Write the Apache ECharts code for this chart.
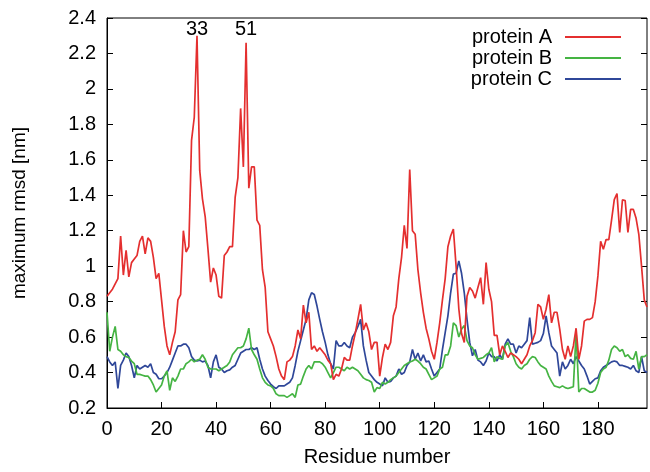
<!DOCTYPE html>
<html><head><meta charset="utf-8">
<script src="https://cdn.jsdelivr.net/npm/echarts@6/dist/echarts.min.js"></script>
<style>html,body{margin:0;padding:0;background:#fff}#c{width:650px;height:472px}</style>
</head><body><div id="c"></div>
<script>
var seriesNames = ['protein A', 'protein B', 'protein C'];
var proteinA = [
0.83,0.85,0.87,0.90,0.93,1.17,0.95,1.09,0.94,1.02,
1.04,1.06,1.14,1.17,1.07,1.16,1.14,1.05,0.93,0.96,
0.81,0.66,0.55,0.50,0.57,0.63,0.81,0.84,1.20,1.08,
1.11,1.71,1.84,2.30,1.54,1.38,1.28,1.10,0.91,0.99,
0.95,0.83,0.82,1.06,1.08,1.11,1.11,1.39,1.50,1.89,
1.56,2.26,1.44,1.56,1.56,1.26,1.23,0.98,0.88,0.63,
0.59,0.55,0.49,0.42,0.38,0.36,0.46,0.47,0.49,0.55,
0.64,0.59,0.78,0.68,0.74,0.53,0.55,0.52,0.54,0.52,
0.50,0.47,0.45,0.36,0.39,0.38,0.42,0.485,0.47,0.47,
0.55,0.62,0.70,0.785,0.64,0.68,0.63,0.53,0.57,0.57,
0.38,0.485,0.56,0.53,0.57,0.72,0.77,0.93,1.05,1.23,
1.10,1.545,1.20,1.18,0.98,0.85,0.74,0.65,0.59,0.52,
0.475,0.57,0.68,0.81,0.93,1.11,1.17,1.21,1.00,0.76,
0.62,0.57,0.83,0.88,0.86,0.82,0.88,0.935,0.785,1.02,
0.87,0.80,0.61,0.61,0.50,0.55,0.52,0.485,0.51,0.50,
0.49,0.475,0.45,0.475,0.50,0.55,0.58,0.625,0.785,0.77,
0.70,0.757,0.84,0.68,0.74,0.74,0.645,0.53,0.475,0.55,
0.49,0.55,0.65,0.475,0.55,0.69,0.70,0.70,0.71,0.80,
0.945,1.14,1.095,1.15,1.15,1.26,1.375,1.41,1.19,1.375,
1.37,1.19,1.32,1.32,1.27,1.18,1.00,0.81,0.77];
var proteinB = [
0.74,0.52,0.60,0.66,0.53,0.52,0.50,0.49,0.485,0.465,
0.45,0.39,0.39,0.385,0.38,0.38,0.36,0.33,0.29,0.31,
0.33,0.38,0.41,0.30,0.37,0.35,0.38,0.42,0.42,0.45,
0.46,0.475,0.46,0.47,0.475,0.50,0.475,0.43,0.42,0.42,
0.42,0.41,0.42,0.43,0.44,0.46,0.50,0.52,0.54,0.54,
0.55,0.59,0.65,0.53,0.50,0.475,0.42,0.37,0.345,0.33,
0.325,0.31,0.28,0.27,0.27,0.27,0.26,0.27,0.28,0.26,
0.33,0.335,0.38,0.42,0.44,0.42,0.46,0.46,0.46,0.45,
0.43,0.40,0.37,0.40,0.43,0.43,0.42,0.41,0.43,0.42,
0.43,0.42,0.41,0.39,0.37,0.36,0.355,0.345,0.29,0.315,
0.31,0.345,0.335,0.345,0.36,0.37,0.38,0.40,0.42,0.44,
0.45,0.46,0.465,0.475,0.465,0.45,0.43,0.42,0.39,0.36,
0.37,0.38,0.42,0.43,0.50,0.50,0.55,0.68,0.665,0.60,
0.645,0.665,0.58,0.55,0.54,0.50,0.475,0.48,0.485,0.50,
0.51,0.54,0.46,0.49,0.48,0.475,0.55,0.57,0.52,0.49,
0.45,0.43,0.42,0.44,0.45,0.475,0.49,0.485,0.46,0.44,
0.43,0.42,0.38,0.35,0.325,0.32,0.315,0.325,0.315,0.31,
0.315,0.32,0.625,0.29,0.31,0.31,0.30,0.29,0.29,0.30,
0.34,0.40,0.42,0.43,0.47,0.53,0.55,0.54,0.52,0.53,
0.49,0.50,0.48,0.475,0.52,0.42,0.49,0.49,0.50];
var proteinC = [
0.49,0.46,0.44,0.46,0.31,0.44,0.47,0.51,0.49,0.44,
0.37,0.44,0.42,0.43,0.44,0.43,0.45,0.40,0.39,0.365,
0.365,0.38,0.40,0.43,0.47,0.51,0.55,0.55,0.56,0.56,
0.54,0.49,0.47,0.465,0.47,0.46,0.465,0.44,0.37,0.46,
0.50,0.43,0.42,0.40,0.41,0.415,0.43,0.44,0.475,0.51,
0.52,0.53,0.53,0.54,0.53,0.54,0.475,0.42,0.38,0.355,
0.335,0.32,0.31,0.325,0.325,0.325,0.335,0.345,0.37,0.44,
0.52,0.58,0.64,0.70,0.81,0.85,0.84,0.775,0.70,0.63,
0.57,0.50,0.45,0.42,0.58,0.55,0.55,0.57,0.55,0.54,
0.60,0.625,0.66,0.70,0.55,0.47,0.40,0.38,0.36,0.345,
0.335,0.325,0.37,0.345,0.35,0.37,0.38,0.42,0.39,0.40,
0.44,0.46,0.53,0.475,0.51,0.465,0.50,0.46,0.465,0.42,
0.38,0.40,0.42,0.53,0.625,0.72,0.85,0.955,0.96,1.03,
0.96,0.85,0.70,0.57,0.495,0.53,0.47,0.46,0.44,0.465,
0.51,0.49,0.49,0.465,0.50,0.475,0.56,0.59,0.56,0.56,
0.51,0.55,0.54,0.56,0.58,0.71,0.56,0.565,0.57,0.58,
0.62,0.72,0.625,0.55,0.53,0.51,0.38,0.46,0.42,0.44,
0.475,0.45,0.49,0.465,0.44,0.42,0.38,0.335,0.35,0.365,
0.37,0.41,0.43,0.44,0.45,0.46,0.465,0.46,0.44,0.44,
0.435,0.43,0.42,0.44,0.41,0.40,0.49,0.41,0.40];
var peakResidues = [33, 51];
var peakLabelY = 2.335;

var colors = ['#e42f2f', '#45b443', '#2f4799'];
var FONT = 'Liberation Sans';

function pairs(arr) { return arr.map(function (v, i) { return [i, v]; }); }

var chart = echarts.init(document.getElementById('c'), null, {renderer: 'canvas'});
var lineSeries = [proteinA, proteinB, proteinC].map(function (arr, k) {
  var s = {
    name: seriesNames[k], type: 'line', data: pairs(arr), showSymbol: false, symbol: 'none',
    lineStyle: {width: 1.7, color: colors[k]}, itemStyle: {color: colors[k]},
    animation: false, z: 3 - k
  };
  if (k === 0) {
    s.markPoint = {
      symbol: 'circle', symbolSize: 0, animation: false,
      label: {show: true, position: 'inside', color: '#000', fontFamily: FONT, fontSize: 20,
        formatter: function (p) { return p.name; }},
      data: peakResidues.map(function (r) { return {name: String(r), coord: [r, peakLabelY]}; })
    };
  }
  return s;
});

chart.setOption({
  backgroundColor: '#fff',
  animation: false,
  color: colors,
  grid: {left: 107, right: 3, top: 18, bottom: 63, show: true, borderColor: '#000', borderWidth: 1, backgroundColor: 'transparent'},
  legend: {
    data: seriesNames, right: 24, top: 22, orient: 'vertical', align: 'right',
    icon: 'rect', itemWidth: 56, itemHeight: 2, itemGap: 1,
    textStyle: {fontFamily: FONT, fontSize: 20, color: '#000', padding: [0, 8, 0, 0]}
  },
  xAxis: {
    type: 'value', min: 0, max: 198, interval: 20,
    name: 'Residue number', nameLocation: 'middle', nameGap: 39,
    nameTextStyle: {fontFamily: FONT, fontSize: 20, color: '#000'},
    axisLine: {show: true, lineStyle: {color: '#000', width: 1}},
    axisTick: {show: true, inside: true, length: 6, lineStyle: {color: '#000'}},
    axisLabel: {fontFamily: FONT, fontSize: 20, color: '#000', margin: 11, showMaxLabel: false},
    splitLine: {show: false}
  },
  yAxis: [{
    type: 'value', min: 0.2, max: 2.4, interval: 0.2,
    name: 'maximum rmsd [nm]', nameLocation: 'middle', nameGap: 78,
    nameTextStyle: {fontFamily: FONT, fontSize: 19, color: '#000'},
    axisLine: {show: true, lineStyle: {color: '#000', width: 1}},
    axisTick: {show: true, inside: true, length: 6, lineStyle: {color: '#000'}},
    axisLabel: {fontFamily: FONT, fontSize: 20, color: '#000', margin: 11,
      formatter: function (v) { return String(Math.round(v * 10) / 10); }},
    splitLine: {show: false}
  }, {
    type: 'value', min: 0.2, max: 2.4, interval: 0.2, position: 'right',
    axisLine: {show: false},
    axisTick: {show: true, inside: true, length: 6, lineStyle: {color: '#000'}},
    axisLabel: {show: false}, splitLine: {show: false}
  }],
  series: lineSeries
});
</script>
</body></html>
